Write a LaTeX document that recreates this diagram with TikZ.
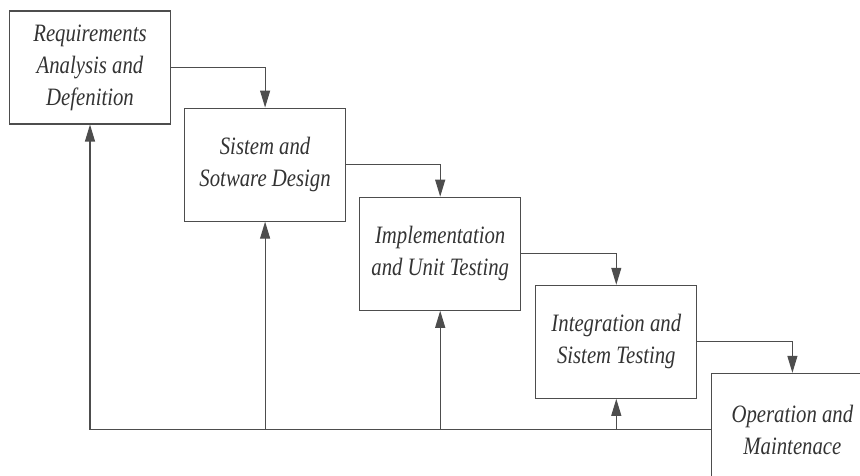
\documentclass[tikz,border=0pt]{standalone}
\usepackage{fontspec}
\setmainfont{Liberation Serif}[FakeStretch=0.83]
\usetikzlibrary{positioning,arrows.meta}
\definecolor{linegray}{HTML}{4D4D4D}
\definecolor{textgray}{HTML}{333333}

\begin{document}
\begin{tikzpicture}[x=1pt, y=1pt,
    phase/.style={draw=linegray, line width=1.1pt, rectangle, minimum width=161pt, minimum height=113pt, inner sep=0pt, align=center, text=textgray, font=\fontsize{25}{32}\selectfont\itshape},
    flow/.style={draw=linegray, line width=1.1pt, -{Triangle[length=17pt, width=10pt]}}]
    \useasboundingbox (0,0) rectangle (860,-476);
    \clip (0,0) rectangle (860,-476);

    % Phases, stepping down to the right
    \node[phase] (req) at (90,-67.5) {Requirements\\Analysis and\\Defenition};
    \node[phase, below right=-17pt and 13pt of req] (design) {Sistem and\\Sotware Design};
    \node[phase, below right=-25pt and 13pt of design] (impl) {Implementation\\and Unit Testing};
    \node[phase, below right=-26pt and 14pt of impl] (integ) {Integration and\\Sistem Testing};
    \node[phase, below right=-26pt and 14pt of integ] (ops) {Operation and\\Maintenace};

    % Flow from one phase to the next
    \draw[flow] (req.east) -| (design.north);
    \draw[flow] (design.east) -| (impl.north);
    \draw[flow] (impl.east) -| (integ.north);
    \draw[flow] (integ.east) -| (ops.north);

    % Feedback back to earlier phases
    \draw[flow] (ops.west) -| (req.south);
    \draw[flow] (design.south |- ops.west) -- (design.south);
    \draw[flow] (impl.south |- ops.west) -- (impl.south);
    \draw[flow] (integ.south |- ops.west) -- (integ.south);
\end{tikzpicture}
\end{document}
